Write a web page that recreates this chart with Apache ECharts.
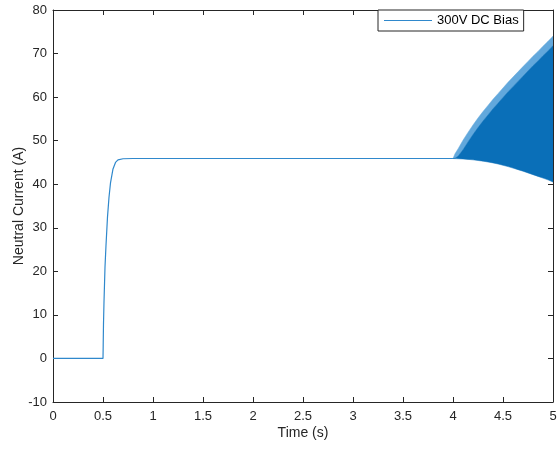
<!DOCTYPE html>
<html>
<head>
<meta charset="utf-8">
<script src="https://cdn.jsdelivr.net/npm/echarts@6/dist/echarts.min.js"></script>
<style>html,body{margin:0;padding:0;background:#fff;}#c{width:558px;height:449px;}</style>
</head>
<body>
<div id="c"></div>
<script>
// Main trace (before oscillation)
var timeMain = [0, 0.5, 0.502, 0.505, 0.51, 0.515, 0.52, 0.53, 0.545, 0.56, 0.575, 0.6, 0.625, 0.65, 0.7, 0.8, 1.0, 2.0, 3.0, 4.0];
var currentMain = [0, 0, 3, 8, 13, 17, 21, 26, 32.5, 37, 40.3, 43.5, 45, 45.6, 45.85, 45.9, 45.9, 45.9, 45.9, 45.9];
// Oscillation envelope (t >= 4 s)
var timeEnv = [4.0, 4.02, 4.05, 4.1, 4.15, 4.2, 4.25, 4.3, 4.35, 4.4, 4.45, 4.5, 4.55, 4.6, 4.65, 4.7, 4.75, 4.8, 4.85, 4.9, 4.95, 5.0];
var upperLight = [45.9, 47.0, 48.1, 50.1, 51.9, 53.6, 55.2, 56.7, 58.1, 59.5, 60.8, 62.1, 63.4, 64.6, 65.8, 67.0, 68.2, 69.4, 70.5, 71.7, 72.8, 74.0];
var upperDark = [45.9, 45.95, 46.4, 47.9, 49.7, 51.4, 53.0, 54.5, 55.9, 57.3, 58.6, 59.9, 61.2, 62.4, 63.6, 64.8, 66.0, 67.2, 68.3, 69.5, 70.6, 71.8];
var lowerEnv = [45.9, 45.88, 45.85, 45.8, 45.7, 45.6, 45.45, 45.3, 45.1, 44.9, 44.65, 44.35, 44.05, 43.7, 43.35, 43.0, 42.6, 42.2, 41.8, 41.4, 41.0, 40.5];
var xTicks = {min: 0, max: 5, interval: 0.5};
var yTicks = {min: -10, max: 80, interval: 10};
var seriesName = '300V DC Bias';

var axisColor = '#262626';
var font = 'Liberation Sans, Arial, Helvetica, sans-serif';
var lineColor = '#2f88cc';

var mainData = timeMain.map(function (t, i) { return [t, currentMain[i]]; });

function baseX(pos, showLabel, name) {
  return {
    type: 'value', position: pos, min: xTicks.min, max: xTicks.max, interval: xTicks.interval,
    name: name || '', nameLocation: 'middle', nameGap: 24, nameMoveOverlap: false,
    nameTextStyle: {color: axisColor, fontSize: 14, fontFamily: font},
    axisLine: {show: true, onZero: false, lineStyle: {color: axisColor, width: 1}},
    axisTick: {show: true, inside: true, length: 5, lineStyle: {color: axisColor}},
    axisLabel: {show: showLabel, color: axisColor, fontSize: 13, fontFamily: font, margin: 8},
    splitLine: {show: false}
  };
}
function baseY(pos, showLabel, name) {
  return {
    type: 'value', position: pos, min: yTicks.min, max: yTicks.max, interval: yTicks.interval,
    name: name || '', nameLocation: 'middle', nameGap: 27, nameMoveOverlap: false,
    nameTextStyle: {color: axisColor, fontSize: 14, fontFamily: font},
    axisLine: {show: true, onZero: false, lineStyle: {color: axisColor, width: 1}},
    axisTick: {show: true, inside: true, length: 5, lineStyle: {color: axisColor}},
    axisLabel: {show: showLabel, color: axisColor, fontSize: 13, fontFamily: font, margin: 6},
    splitLine: {show: false}
  };
}

var chart = echarts.init(document.getElementById('c'), null, {renderer: 'canvas'});
chart.setOption({
  animation: false,
  backgroundColor: '#fff',
  grid: {left: 53, right: 5, top: 10, bottom: 47, containLabel: false, outerBoundsMode: 'none'},
  legend: {
    left: 378, top: 10,
    data: [{name: seriesName, icon: 'rect'}],
    itemWidth: 48, itemHeight: 1, itemGap: 5,
    padding: [4, 5, 4, 6],
    borderColor: axisColor, borderWidth: 1, borderRadius: 0,
    backgroundColor: '#fff',
    textStyle: {color: '#000', fontSize: 13, fontFamily: font, padding: [0, 0, 0, 0]}
  },
  xAxis: [baseX('bottom', true, 'Time (s)'), baseX('top', false)],
  yAxis: [baseY('left', true, 'Neutral Current (A)'), baseY('right', false)],
  series: [
    {
      name: seriesName, type: 'line', data: mainData, showSymbol: false, symbol: 'none',
      lineStyle: {color: lineColor, width: 1.2}, itemStyle: {color: lineColor}, z: 2
    },
    {
      name: 'envelope', type: 'custom', data: [0], clip: true, z: 3,
      renderItem: function (params, api) {
        var dark = [], light = [];
        for (var i = 0; i < timeEnv.length; i++) dark.push(api.coord([timeEnv[i], upperDark[i]]));
        for (var j = timeEnv.length - 1; j >= 0; j--) dark.push(api.coord([timeEnv[j], lowerEnv[j]]));
        for (var k = 0; k < timeEnv.length; k++) light.push(api.coord([timeEnv[k], upperLight[k]]));
        for (var m = timeEnv.length - 1; m >= 0; m--) light.push(api.coord([timeEnv[m], upperDark[m]]));
        return {
          type: 'group',
          children: [
            {type: 'polygon', shape: {points: light}, style: {fill: '#62a8dc', stroke: '#62a8dc', lineWidth: 0.5}},
            {type: 'polygon', shape: {points: dark}, style: {fill: '#0a6fb8', stroke: '#0a6fb8', lineWidth: 0.5}}
          ]
        };
      }
    }
  ]
});
</script>
</body>
</html>
